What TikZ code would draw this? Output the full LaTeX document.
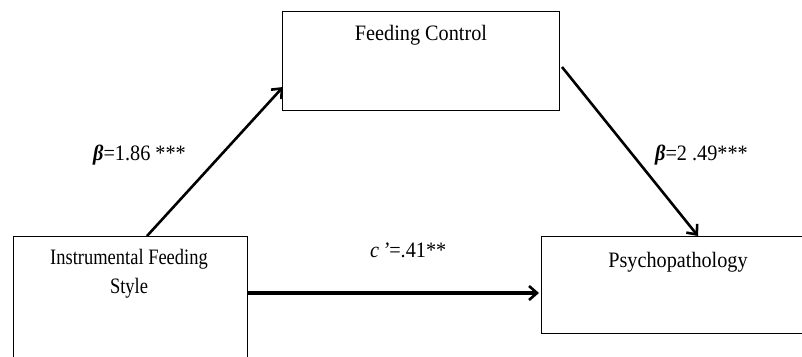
\documentclass[tikz,border=0pt]{standalone}
\usepackage{fontspec}
\setmainfont{Liberation Serif}
\usetikzlibrary{arrows.meta}
\begin{document}
\begin{tikzpicture}[x=1pt,y=-1pt,
  lbl/.style={font=\fontsize{22}{26}\selectfont,inner sep=0pt,xscale=0.92},
  conn/.style={line width=2.6pt,-{Straight Barb[length=8pt,width=14pt,line width=2.6pt]}}]
\useasboundingbox (0,0) rectangle (802,356);
\path[fill=white] (0,0) rectangle (802,356);
% boxes
\draw[line width=1pt] (282,11) rectangle (559,110);
\coordinate (fcL) at (283,87);
\coordinate (fcR) at (562,67);
\draw[line width=1pt] (13,236) rectangle (247,360);
\coordinate (ifsT) at (147,236);
\coordinate (ifsR) at (247,293);
\draw[line width=1pt] (541,236) rectangle (805,333);
\coordinate (psL) at (539,293);
\coordinate (psT) at (698,236);
% texts
\node[lbl] (tfc) at (421,35) {Feeding Control};
\node[lbl,xscale=0.913,align=center] (tifs) at (129,274) {Instrumental Feeding\\[3pt]Style};
\node[lbl] (tps) at (678,262) {Psychopathology};
\node[lbl,anchor=west] (b1) at (93,155) {\textbf{\textit{β}}=1.86 ***};
\node[lbl,anchor=west] (b2) at (655,155) {\textbf{\textit{β}}=2 .49***};
\node[lbl,anchor=west] (c1) at (370,250) {\textit{c}\,\textit{'}=.41**};
% connectors
\draw[conn] (ifsT) -- (fcL);
\draw[conn] (fcR) -- (psT);
\draw[conn,line width=3.6pt] (ifsR) -- (psL);
\end{tikzpicture}
\end{document}
